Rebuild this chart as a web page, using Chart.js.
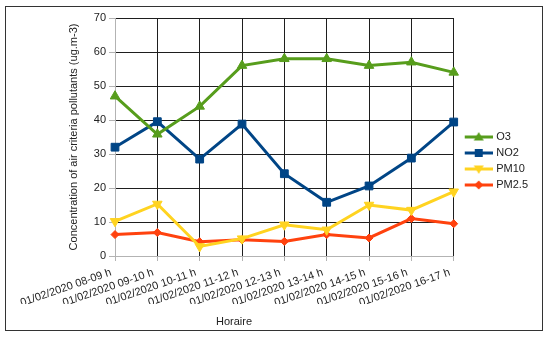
<!DOCTYPE html>
<html>
<head>
<meta charset="utf-8">
<script src="https://cdn.jsdelivr.net/npm/chart.js@4.4.0/dist/chart.umd.min.js"></script>
<style>
    body { margin: 0; background: #fff; }
</style>
</head>
<body>
<canvas id="pollutants" width="550" height="337"></canvas>
<script>
var hours = [
    "01/02/2020 08-09 h", "01/02/2020 09-10 h", "01/02/2020 10-11 h",
    "01/02/2020 11-12 h", "01/02/2020 12-13 h", "01/02/2020 13-14 h",
    "01/02/2020 14-15 h", "01/02/2020 15-16 h", "01/02/2020 16-17 h"
];
var o3 = [47, 35.8, 44, 56, 58, 58, 56, 57, 54];
var no2 = [32, 39.5, 28.5, 38.8, 24.2, 15.8, 20.6, 28.8, 39.4];
var pm10 = [10.2, 15.3, 2.8, 5.1, 9.2, 7.7, 15, 13.5, 18.9];
var pm25 = [6.3, 6.9, 4.2, 4.8, 4.3, 6.3, 5.3, 11, 9.5];

var FONT = '"Liberation Sans", Arial, sans-serif';
var gridDark = '#1e1e1e';
var gridLight = '#b3b3b3';

// little line + marker pictures for the legend
function legendMarker(color, shape) {
    var c = document.createElement('canvas');
    c.width = 36;
    c.height = 12;
    var g = c.getContext('2d');
    g.strokeStyle = color;
    g.fillStyle = color;
    g.lineWidth = 3;
    g.beginPath();
    g.moveTo(8, 6);
    g.lineTo(36, 6);
    g.stroke();
    var x = 22, y = 6;
    g.beginPath();
    if (shape == 'up') {
        g.moveTo(x, y - 5);
        g.lineTo(x + 5, y + 3.5);
        g.lineTo(x - 5, y + 3.5);
    } else if (shape == 'down') {
        g.moveTo(x, y + 5);
        g.lineTo(x + 5, y - 3.5);
        g.lineTo(x - 5, y - 3.5);
    } else if (shape == 'square') {
        g.rect(x - 4, y - 4, 8, 8);
    } else {
        g.moveTo(x, y - 4.5);
        g.lineTo(x + 4.5, y);
        g.lineTo(x, y + 4.5);
        g.lineTo(x - 4.5, y);
    }
    g.closePath();
    g.fill();
    return c;
}

var markers = [
    legendMarker('#579d1c', 'up'),
    legendMarker('#004586', 'square'),
    legendMarker('#ffd320', 'down'),
    legendMarker('#ff420e', 'diamond')
];

var frame = {
    id: 'frame',
    afterDraw: function (chart) {
        var ctx = chart.ctx;
        ctx.save();
        ctx.strokeStyle = '#333';
        ctx.lineWidth = 1;
        ctx.strokeRect(5.5, 6.5, 537, 324);
        ctx.fillStyle = '#222';
        ctx.font = '11px ' + FONT;
        ctx.textAlign = 'center';
        ctx.textBaseline = 'middle';
        ctx.fillText('Horaire', 234, 322);
        ctx.restore();
    }
};

var ctx = document.getElementById('pollutants');
var lineChart = new Chart(ctx, {
    type: 'line',
    data: {
        labels: hours,
        datasets: [
            {
                label: "O3",
                data: o3,
                borderColor: "#579d1c",
                backgroundColor: "#579d1c",
                borderWidth: 3,
                pointStyle: 'triangle',
                pointRadius: 5.5,
                pointBorderWidth: 1
            },
            {
                label: "NO2",
                data: no2,
                borderColor: "#004586",
                backgroundColor: "#004586",
                borderWidth: 3,
                pointStyle: 'rect',
                pointRadius: 5.5,
                pointBorderWidth: 1
            },
            {
                label: "PM10",
                data: pm10,
                borderColor: "#ffd320",
                backgroundColor: "#ffd320",
                borderWidth: 3,
                pointStyle: 'triangle',
                pointRotation: 180,
                pointRadius: 5.5,
                pointBorderWidth: 1
            },
            {
                label: "PM2.5",
                data: pm25,
                borderColor: "#ff420e",
                backgroundColor: "#ff420e",
                borderWidth: 3,
                pointStyle: 'rectRot',
                pointRadius: 4,
                pointBorderWidth: 1
            }
        ]
    },
    options: {
        responsive: false,
        animation: false,
        layout: {
            padding: { left: 0, top: 18, right: 12, bottom: 33 }
        },
        plugins: {
            legend: {
                position: 'right',
                labels: {
                    usePointStyle: true,
                    pointStyleWidth: 32,
                    boxHeight: 11,
                    padding: 5,
                    color: '#222',
                    font: { family: FONT, size: 11 },
                    generateLabels: function (chart) {
                        var items = Chart.defaults.plugins.legend.labels.generateLabels(chart);
                        items.forEach(function (item, i) {
                            item.pointStyle = markers[i];
                            item.rotation = 0;
                        });
                        return items;
                    }
                }
            },
            tooltip: { enabled: false }
        },
        scales: {
            x: {
                afterFit: function (scale) { scale.height = 48; },
                border: { color: gridLight },
                grid: {
                    color: function (c) { return c.index === 0 ? gridLight : gridDark; },
                    tickColor: gridLight,
                    tickLength: 5
                },
                ticks: {
                    autoSkip: false,
                    minRotation: 19,
                    maxRotation: 19,
                    padding: 5,
                    labelOffset: -4,
                    color: '#222',
                    font: { family: FONT, size: 11 }
                }
            },
            y: {
                min: 0,
                max: 70,
                afterFit: function (scale) { scale.width = 115; },
                border: { color: gridLight },
                grid: {
                    color: function (c) { return c.index === 0 ? gridLight : gridDark; },
                    tickColor: gridLight,
                    tickLength: 6
                },
                ticks: {
                    stepSize: 10,
                    padding: 3,
                    color: '#222',
                    font: { family: FONT, size: 11 }
                },
                title: {
                    display: true,
                    text: 'Concentration of air criteria pollutants (ug.m-3)',
                    color: '#222',
                    font: { family: FONT, size: 11 },
                    padding: { top: 67, bottom: 0 }
                }
            }
        }
    },
    plugins: [frame]
});
</script>
</body>
</html>
